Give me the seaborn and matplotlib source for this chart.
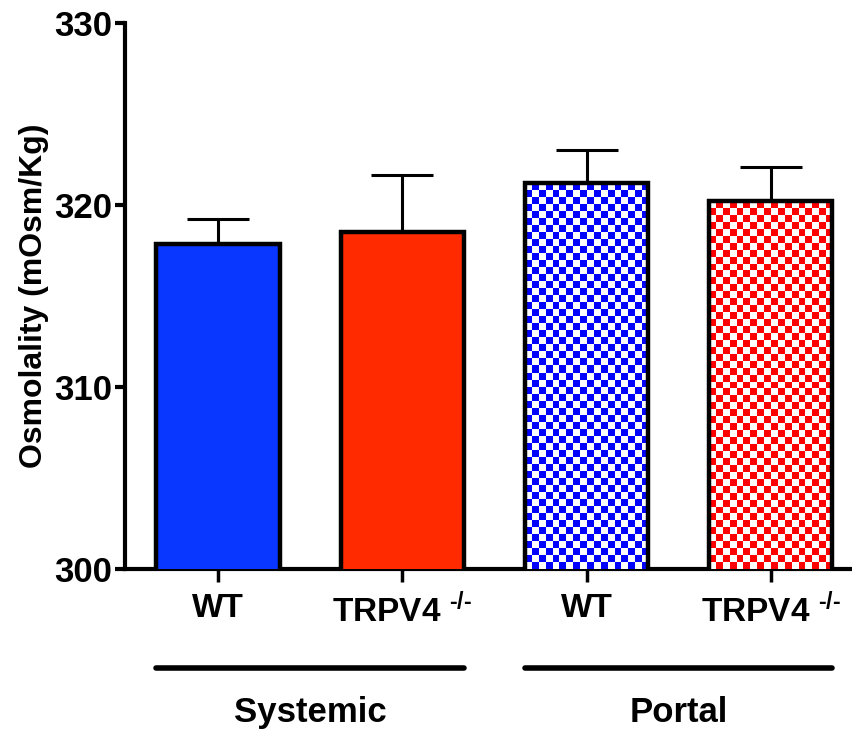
import numpy as np
import pandas as pd
import matplotlib
matplotlib.use("Agg")
import matplotlib.pyplot as plt
import seaborn as sns

# values
keys = ["sys_wt", "sys_ko", "por_wt", "por_ko"]
labels = ["WT", "TRPV4 $^{\\text{-/-}}$", "WT", "TRPV4 $^{\\text{-/-}}$"]
means = [317.85, 318.5, 321.2, 320.2]
sem = [1.4, 3.15, 1.8, 1.9]
fills = ["#0A37FF", "#FF2A00", "#0000FF", "#FF0000"]
checker = [False, False, True, True]
groups = ["Systemic", "Portal"]
group_span = [(0, 1), (2, 3)]

sns.set_style("ticks", {"axes.edgecolor": "black", "text.color": "black",
                        "xtick.color": "black", "ytick.color": "black",
                        "axes.labelcolor": "black"})
plt.rcParams["font.family"] = ["Liberation Sans", "DejaVu Sans"]
plt.rcParams["font.weight"] = "bold"
plt.rcParams["mathtext.fontset"] = "custom"
plt.rcParams["mathtext.rm"] = "Liberation Sans:bold"
plt.rcParams["mathtext.it"] = "Liberation Sans:bold"
plt.rcParams["mathtext.bf"] = "Liberation Sans:bold"
plt.rcParams["mathtext.default"] = "rm"

df = pd.DataFrame({"cond": keys, "osm": means})

fig = plt.figure(figsize=(8.52, 7.36), dpi=100)
ax = fig.add_axes([125 / 852, 167 / 736, 725 / 852, 546 / 736])

width = 0.67
sns.barplot(data=df, x="cond", y="osm", hue="cond", palette=fills, legend=False,
            saturation=1, width=width, edgecolor="black", linewidth=3.2, ax=ax, zorder=3)

ax.errorbar(range(len(means)), means, yerr=[np.zeros(len(sem)), sem], fmt="none",
            ecolor="black", elinewidth=2.2, capsize=22.5, capthick=2.2, zorder=2)

ax.set_ylim(300, 330)
ax.set_xlim(-0.505, 3.43)
ax.set_yticks([300, 310, 320, 330])
ax.set_xticks(range(len(labels)))
ax.set_xticklabels(labels)

# checkerboard fills for the portal bars
fig.canvas.draw()
ybase = 300
for patch, chk, col in zip(ax.patches, checker, fills):
    if not chk:
        continue
    x0 = patch.get_x()
    x1 = x0 + patch.get_width()
    y1 = patch.get_y() + patch.get_height()
    p0 = ax.transData.transform((x0, ybase))
    p1 = ax.transData.transform((x1, y1))
    nx = max(int(round((p1[0] - p0[0]) / 7.0)), 1)
    ny = max(int(round((p1[1] - p0[1]) / 7.0)), 1)
    board = (np.add.outer(np.arange(ny), np.arange(nx)) % 2).astype(float)
    cmap = matplotlib.colors.ListedColormap(["white", col])
    im = ax.imshow(board, cmap=cmap, extent=[x0, x1, ybase, y1],
                   origin="lower", interpolation="nearest", aspect="auto", zorder=3.5)
    im.set_clip_path(patch)
    patch.set_facecolor("none")
    patch.set_zorder(4)
ax.set_xlim(-0.505, 3.43)
ax.set_ylim(300, 330)

sns.despine(ax=ax)
for s in ["left", "bottom"]:
    ax.spines[s].set_linewidth(3)
ax.tick_params(axis="y", length=7, width=3, labelsize=25, pad=2)
ax.tick_params(axis="x", length=9, width=2.5, labelsize=24, pad=8)
for t in ax.get_yticklabels() + ax.get_xticklabels():
    t.set_fontweight("bold")
ax.set_xlabel("")
ax.set_ylabel("Osmolality (mOsm/Kg)", fontsize=23, fontweight="bold", labelpad=4)

trans = matplotlib.transforms.blended_transform_factory(ax.transData, ax.transAxes)
for name, (a, b) in zip(groups, group_span):
    x0 = a - width / 2
    x1 = b + width / 2
    ax.plot([x0, x1], [-0.181, -0.181], color="black", lw=4, solid_capstyle="round",
            transform=trans, clip_on=False)
    ax.text((x0 + x1) / 2, -0.262, name, transform=trans, ha="center", va="center",
            fontsize=25, fontweight="bold")

fig.savefig("out.png", dpi=100)
